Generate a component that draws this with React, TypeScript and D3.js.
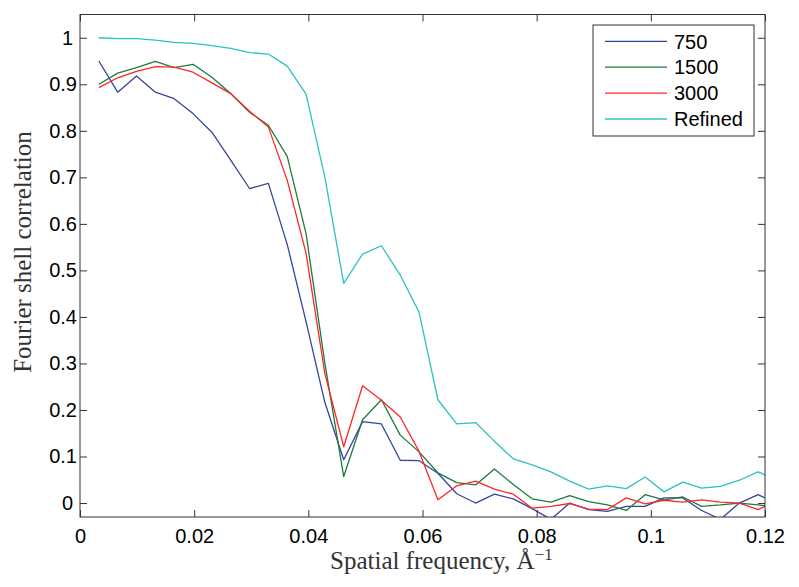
import React, { useRef, useEffect } from 'react';
import * as d3 from 'd3';

// spatial frequency samples (1/A)
const freq = [
  0.0033, 0.0066, 0.0099, 0.0132, 0.0165, 0.0198, 0.0231, 0.0264, 0.0297, 0.033,
  0.0363, 0.0396, 0.0429, 0.0462, 0.0495, 0.0528, 0.0561, 0.0594, 0.0627, 0.066,
  0.0693, 0.0726, 0.0759, 0.0792, 0.0825, 0.0858, 0.0891, 0.0924, 0.0957, 0.099,
  0.1023, 0.1056, 0.1089, 0.1122, 0.1155, 0.1188, 0.1221,
];

const fsc750 = [
  0.95, 0.883, 0.918, 0.883, 0.869, 0.837, 0.797, 0.737, 0.676, 0.687,
  0.556, 0.39, 0.216, 0.093, 0.175, 0.17, 0.092, 0.091, 0.064, 0.02,
  0.0, 0.019, 0.009, -0.012, -0.035, 0.0, -0.014, -0.018, -0.007, -0.007,
  0.011, 0.011, -0.016, -0.035, 0.0, 0.018, -0.001,
];

const fsc1500 = [
  0.9, 0.924, 0.936, 0.949, 0.936, 0.943, 0.915, 0.88, 0.84, 0.812,
  0.745, 0.579, 0.3, 0.057, 0.179, 0.222, 0.146, 0.11, 0.065, 0.044,
  0.039, 0.073, 0.04, 0.009, 0.002, 0.016, 0.003, -0.004, -0.016, 0.018,
  0.007, 0.013, -0.007, -0.004, 0.0, -0.004, -0.009,
];

const fsc3000 = [
  0.893, 0.914, 0.928, 0.938, 0.937, 0.926, 0.903, 0.88, 0.842, 0.808,
  0.694, 0.537, 0.278, 0.121, 0.252, 0.221, 0.185, 0.111, 0.007, 0.037,
  0.047, 0.03, 0.019, -0.011, -0.007, -0.001, -0.013, -0.014, 0.011, -0.002,
  0.006, 0.002, 0.007, 0.002, 0.0, -0.014, 0.005,
];

const fscRefined = [
  1.0, 0.998, 0.998, 0.995, 0.99, 0.988, 0.983, 0.977, 0.968, 0.965,
  0.939, 0.879, 0.7, 0.472, 0.535, 0.553, 0.49, 0.41, 0.222, 0.17,
  0.173, 0.133, 0.095, 0.082, 0.067, 0.047, 0.03, 0.037, 0.031, 0.056,
  0.024, 0.045, 0.032, 0.036, 0.049, 0.067, 0.05,
];

const seriesNames = ['750', '1500', '3000', 'Refined'];
const seriesColors = ['#3445a0', '#1e7a40', '#ff2626', '#2cc2c2'];
const seriesValues = [fsc750, fsc1500, fsc3000, fscRefined];

const xTicks = [0, 0.02, 0.04, 0.06, 0.08, 0.1, 0.12];
const yTicks = [0, 0.1, 0.2, 0.3, 0.4, 0.5, 0.6, 0.7, 0.8, 0.9, 1];

const W = 799;
const H = 587;

const App: React.FC = () => {
  const ref = useRef<SVGSVGElement>(null);

  useEffect(() => {
    if (!ref.current) return;
    const svg = d3.select(ref.current);
    svg.selectAll('*').remove();

    const left = 80, right = 765, top = 14.5, bottom = 517;
    const x = d3.scaleLinear().domain([0, 0.12]).range([left, right]);
    const y = d3.scaleLinear().domain([-0.03, 1.05]).range([bottom, top]);

    const axisColor = '#333';
    const tickFont = '"Liberation Sans", Arial, sans-serif';

    svg.append('clipPath').attr('id', 'plotclip')
      .append('rect')
      .attr('x', left).attr('y', top)
      .attr('width', right - left).attr('height', bottom - top);

    // lines
    const line = d3.line<number>()
      .x((_, i) => x(freq[i]))
      .y(d => y(d));

    const lines = svg.append('g').attr('clip-path', 'url(#plotclip)');
    seriesValues.forEach((vals, i) => {
      lines.append('path')
        .datum(vals)
        .attr('fill', 'none')
        .attr('stroke', seriesColors[i])
        .attr('stroke-width', 1.3)
        .attr('stroke-linejoin', 'round')
        .attr('d', line);
    });

    // axes, ticks pointing inward
    const gx = svg.append('g')
      .attr('transform', `translate(0,${bottom})`)
      .call(d3.axisBottom(x).tickValues(xTicks).tickSizeInner(-7).tickSizeOuter(0)
        .tickPadding(12).tickFormat(d => String(d)));
    const gxt = svg.append('g')
      .attr('transform', `translate(0,${top})`)
      .call(d3.axisTop(x).tickValues(xTicks).tickSizeInner(-7).tickSizeOuter(0)
        .tickFormat(() => ''));
    const gy = svg.append('g')
      .attr('transform', `translate(${left},0)`)
      .call(d3.axisLeft(y).tickValues(yTicks).tickSizeInner(-7).tickSizeOuter(0)
        .tickPadding(3).tickFormat(d => String(d)));
    const gyr = svg.append('g')
      .attr('transform', `translate(${right},0)`)
      .call(d3.axisRight(y).tickValues(yTicks).tickSizeInner(-7).tickSizeOuter(0)
        .tickFormat(() => ''));

    [gx, gxt, gy, gyr].forEach(g => {
      g.select('.domain').remove();
      g.selectAll('line').attr('stroke', axisColor);
      g.selectAll('text')
        .attr('fill', '#000')
        .style('font-family', tickFont)
        .style('font-size', '20px');
    });
    // single-character labels sit a little further left in the original
    gy.selectAll<SVGTextElement, number>('text')
      .attr('dx', function () { return (this.textContent || '').length === 1 ? -4 : 0; });

    svg.append('rect')
      .attr('x', left).attr('y', top)
      .attr('width', right - left).attr('height', bottom - top)
      .attr('fill', 'none')
      .attr('stroke', axisColor)
      .attr('stroke-width', 1);

    // axis titles
    const serif = '"Liberation Serif", "Times New Roman", serif';
    const xl = svg.append('text')
      .attr('x', 330).attr('y', 569)
      .style('font-family', serif)
      .style('font-size', '25px')
      .attr('fill', '#333');
    xl.append('tspan').text('Spatial frequency, Å');
    xl.append('tspan').attr('dy', -9).style('font-size', '17px').text('−1');

    svg.append('text')
      .attr('transform', 'translate(31,252) rotate(-90)')
      .attr('text-anchor', 'middle')
      .style('font-family', serif)
      .style('font-size', '25px')
      .attr('fill', '#333')
      .text('Fourier shell correlation');

    // legend
    const lg = svg.append('g');
    lg.append('rect')
      .attr('x', 593).attr('y', 25)
      .attr('width', 161).attr('height', 111)
      .attr('fill', '#fff')
      .attr('stroke', axisColor);
    const rowY = d3.scalePoint<string>().domain(seriesNames).range([41.3, 119]);
    seriesNames.forEach((name, i) => {
      const ry = rowY(name) as number;
      lg.append('line')
        .attr('x1', 605).attr('x2', 667)
        .attr('y1', ry).attr('y2', ry)
        .attr('stroke', seriesColors[i])
        .attr('stroke-width', 1.3);
      lg.append('text')
        .attr('x', 674).attr('y', ry).attr('dy', '0.36em')
        .style('font-family', tickFont)
        .style('font-size', '20px')
        .attr('fill', '#000')
        .text(name);
    });
  }, []);

  return (
    <svg
      ref={ref}
      width={W}
      height={H}
      style={{ position: 'absolute', left: 0, top: 0, background: '#fff' }}
    />
  );
};

export default App;
